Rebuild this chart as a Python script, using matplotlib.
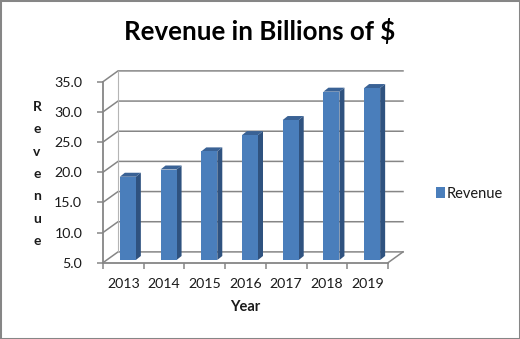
import matplotlib
matplotlib.use("Agg")
import matplotlib.pyplot as plt
from matplotlib.patches import Patch, Rectangle, Polygon
from matplotlib.ticker import FixedLocator

plt.rcParams['font.family'] = ['Lato', 'DejaVu Sans']

years = ['2013', '2014', '2015', '2016', '2017', '2018', '2019']
revenue = [18.8, 20.0, 23.0, 25.7, 28.2, 32.9, 33.5]
y_ticks = [5, 10, 15, 20, 25, 30, 35]

W, H = 520, 339
fig = plt.figure(figsize=(W / 100, H / 100), dpi=100, facecolor='white')
fig.add_artist(Rectangle((0, 0), 1, 1, transform=fig.transFigure, fill=False,
                         edgecolor='#868686', linewidth=2.2))

left, right, top, bottom = 103, 388, 81.7, 262.7
ax = fig.add_axes([left / W, 1 - bottom / H, (right - left) / W, (bottom - top) / H])
ax.set_xlim(-0.5, 6.5)
ax.set_ylim(5, 35)
ax.patch.set_alpha(0)

px_x = 7 / (right - left)
px_y = 30 / (bottom - top)
wall_dx, wall_dy = 15 * px_x, 10.8 * px_y
grid_c = '#868686'

for v in y_ticks:
    ax.plot([-0.5, -0.5 + wall_dx, 6.5 + wall_dx], [v, v + wall_dy, v + wall_dy],
            color=grid_c, lw=1.1, clip_on=False, zorder=1, solid_joinstyle='miter')
ax.plot([-0.5 + wall_dx] * 2, [5 + wall_dy, 35 + wall_dy], color='#b5b5b5', lw=0.8, clip_on=False, zorder=1)
ax.plot([6.5, 6.5 + wall_dx], [5, 5 + wall_dy], color=grid_c, lw=1.1, clip_on=False, zorder=1)

face, side, cap = '#4a7ebb', '#2f527f', '#3a6295'
bar_w = 16 * px_x
shift = 4.5 * px_x
base_lift = 2.7 * px_y
d_x, d_y = 5 * px_x, 4 * px_y
for i, r in enumerate(revenue):
    x0 = i + shift - bar_w / 2
    x1 = x0 + bar_w
    y0 = 5 + base_lift
    y1 = r + base_lift
    ax.add_patch(Polygon([(x1, y0), (x1 + d_x, y0 + d_y), (x1 + d_x, y1 + d_y), (x1, y1)],
                         facecolor=side, edgecolor='none', clip_on=False, zorder=3))
    ax.add_patch(Polygon([(x0, y1), (x0 + d_x, y1 + d_y), (x1 + d_x, y1 + d_y), (x1, y1)],
                         facecolor=cap, edgecolor='none', clip_on=False, zorder=3))
    ax.bar(i + shift, y1 - y0, bottom=y0, width=bar_w, color=face, zorder=3, clip_on=False)

for s in ('top', 'right'):
    ax.spines[s].set_visible(False)
for s in ('left', 'bottom'):
    ax.spines[s].set_color(grid_c)
    ax.spines[s].set_linewidth(1.3)

ax.set_yticks(y_ticks, [f'{v:.1f}' for v in y_ticks])
ax.set_xticks(range(len(years)), years)
ax.xaxis.set_minor_locator(FixedLocator([i - 0.5 for i in range(len(years) + 1)]))
ax.tick_params(axis='x', which='major', length=0, pad=11, labelsize=10.2, labelcolor='#1a1a1a')
ax.tick_params(axis='x', which='minor', length=4, width=1.1, color=grid_c)
ax.tick_params(axis='y', length=4, width=1.1, color=grid_c, pad=11, labelsize=10.2, labelcolor='#1a1a1a')

fig.text(260 / W, 1 - 31 / H, 'Revenue in Billions of $', ha='center', va='center',
         fontsize=18.6, fontweight='bold', color='black')
fig.text(245.5 / W, 1 - 307 / H, 'Year', ha='center', va='center', fontsize=10.5, fontweight='bold', color='#1a1a1a')
fig.text(37 / W, 1 - 174 / H, 'R\ne\nv\ne\nn\nu\ne', ha='center', va='center',
         fontsize=10, fontweight='bold', color='#1a1a1a', linespacing=2.04)

ax.legend(handles=[Patch(facecolor=face, label='Revenue')], loc='center left',
          bbox_to_anchor=(436 / W, 1 - 193.5 / H), bbox_transform=fig.transFigure,
          frameon=False, fontsize=10.5, handlelength=0.62, handleheight=0.85,
          handletextpad=0.1, borderpad=0, borderaxespad=0, labelcolor='#1a1a1a')

fig.savefig('out.png', dpi=100)
